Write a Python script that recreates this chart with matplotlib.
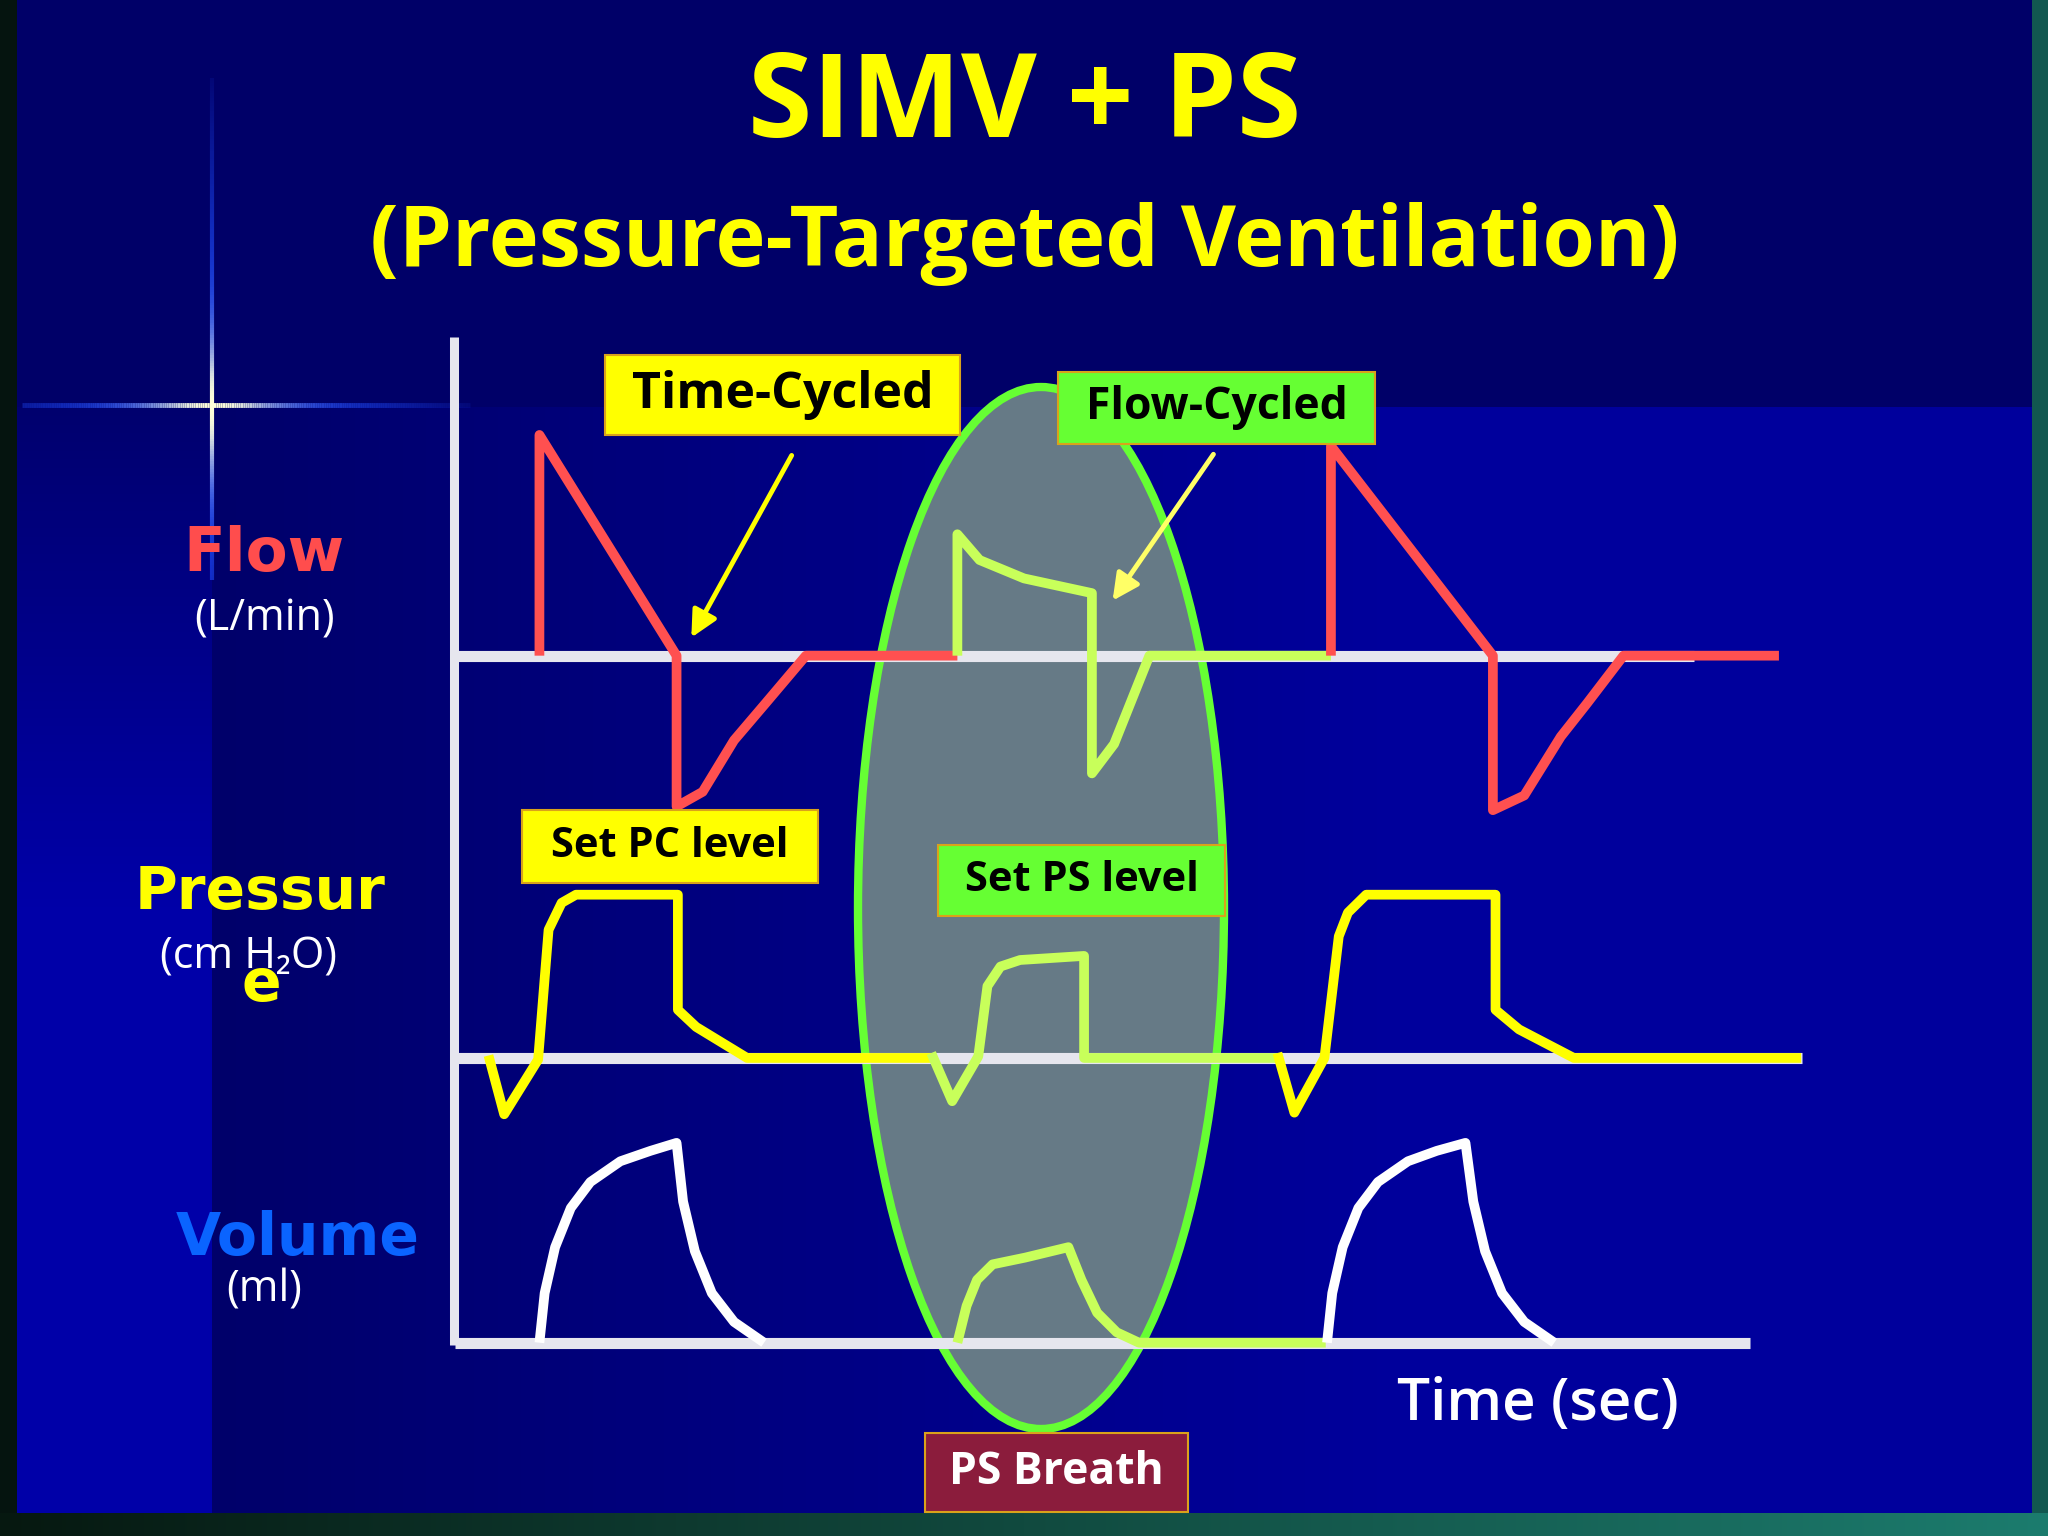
import numpy as np
import matplotlib
matplotlib.use("Agg")
import matplotlib.pyplot as plt
from matplotlib.patches import Ellipse, Rectangle
from matplotlib.collections import LineCollection

W, H = 2048, 1536
S = W / 1568.0          # layout was measured on a 1568 wide copy

# ---- waveform data (time in s, flow L/min, pressure cm H2O, volume ml) ----
flow_t1 = [0.65, 0.65, 1.70, 1.70, 1.90, 2.14, 2.38, 2.69, 3.85]
flow_v1 = [0, 60, 0, -41, -37, -23, -13, 0, 0]
flow_tps = [3.85, 3.85, 4.02, 4.36, 4.88, 4.88, 5.05, 5.32, 6.71]
flow_vps = [0, 33, 26, 21, 17, -32, -24, 0, 0]
flow_t2 = [6.71, 6.71, 7.95, 7.95, 8.19, 8.47, 8.67, 8.95, 10.14]
flow_v2 = [0, 57, 0, -42, -38, -22, -13, 0, 0]

pres_t1 = [0.26, 0.38, 0.64, 0.72, 0.82, 0.93, 1.71, 1.71, 1.85, 2.24, 3.65]
pres_v1 = [0.3, -6.9, -0.2, 15.7, 19.0, 20, 20, 5.9, 3.8, 0, 0]
pres_tps = [3.65, 3.81, 4.01, 4.08, 4.18, 4.33, 4.82, 4.82, 6.31]
pres_vps = [0.6, -5.3, 0.2, 8.8, 11.2, 12.0, 12.5, 0, 0]
pres_t2 = [6.30, 6.43, 6.66, 6.77, 6.84, 6.98, 7.97, 7.97, 8.15, 8.57, 10.31]
pres_v2 = [0.6, -6.7, 0, 14.9, 17.8, 20, 20, 5.9, 3.5, 0, 0]

vol_t1 = [0.65, 0.69, 0.77, 0.89, 1.04, 1.27, 1.50, 1.70, 1.75, 1.84, 1.97, 2.14, 2.37]
vol_v1 = [0, 124, 239, 337, 402, 454, 480, 500, 353, 229, 124, 52, 0]
vol_tps = [3.85, 3.92, 4.00, 4.12, 4.37, 4.70, 4.80, 4.92, 5.07, 5.24, 6.67]
vol_vps = [0, 92, 157, 196, 213, 239, 157, 75, 26, 0, 0]
vol_t2 = [6.68, 6.72, 6.80, 6.92, 7.07, 7.30, 7.52, 7.74, 7.80, 7.89, 8.02, 8.19, 8.42]
vol_v2 = [0, 124, 239, 337, 402, 454, 480, 500, 353, 229, 124, 52, 0]

baseline_end = {"flow": 9.49, "pres": 10.32, "vol": 9.92}

RED = "#ff5050"
YEL = "#ffff00"
PSC = "#c8ff5a"
WHT = "#ffffff"
BASE = "#e6e6ee"

fig = plt.figure(figsize=(W / 100, H / 100), dpi=100)

# ---- background ----
bg = fig.add_axes([0, 0, 1, 1])
bg.set_xlim(0, W)
bg.set_ylim(H, 0)
bg.axis("off")

img = np.zeros((H, W, 3), np.uint8)
img[:] = (5, 20, 15)
img[:1513, 17:2032] = (0, 0, 104)
xs = np.arange(W)
frac = np.clip((xs - 212) / (1400 - 212), 0, 1)
img[407:1513, 17:2032, 2] = (106 + 50 * frac[17:2032]).astype(np.uint8)
ys = np.arange(407, 1513)
img[407:1513, 17:212, 2] = (110 + 58 * np.clip((ys - 407) / 500, 0, 1))[:, None].astype(np.uint8)
fb = np.clip(xs / W, 0, 1)
img[1513:, :, 0] = (6 + 22 * fb).astype(np.uint8)
img[1513:, :, 1] = (24 + 100 * fb).astype(np.uint8)
img[1513:, :, 2] = (16 + 94 * fb).astype(np.uint8)
img[:1513, 2032:] = (18, 88, 80)
bg.imshow(img, extent=(0, W, H, 0), interpolation="nearest", aspect="auto", zorder=0)

# lens flare cross
def flare(p0, p1, center, spread, lw):
    n = 200
    pts = np.linspace(0, 1, n)
    x = p0[0] + (p1[0] - p0[0]) * pts
    y = p0[1] + (p1[1] - p0[1]) * pts
    d = np.hypot(x - center[0], y - center[1])
    w = np.exp(-(d / spread) ** 2)
    blue = np.array([0.12, 0.3, 1.0])
    white = np.array([1.0, 1.0, 0.85])
    cols = blue[None, :] * (1 - w[:, None]) + white[None, :] * w[:, None]
    alpha = np.clip(1.1 - d / d.max(), 0, 1)
    rgba = np.column_stack([cols, alpha])
    segs = np.stack([np.column_stack([x[:-1], y[:-1]]), np.column_stack([x[1:], y[1:]])], axis=1)
    bg.add_collection(LineCollection(segs, colors=rgba[:-1], linewidths=lw, zorder=1))

flare((22, 405), (470, 405), (212, 405), 70, 3.5)
flare((212, 78), (212, 580), (212, 405), 70, 3.0)

# PS breath ellipse
bg.add_patch(Ellipse((1041, 908), 366, 1042, fc="#667a86", ec="#66ff33", lw=6, zorder=2))

# vertical axis
bg.plot([454, 454], [337, 1345], color=BASE, lw=6.5, solid_capstyle="butt", zorder=3)

# ---- trace axes ----
def trace_axes(y_top, y_bot, base, k):
    # y_top, y_bot, base measured on the 1568 copy; k = units per pixel
    a = fig.add_axes([348 * S / W, 1 - y_bot * S / H, 1050 * S / W, (y_bot - y_top) * S / H])
    a.set_xlim(0, 10.5)
    a.set_ylim((base - y_bot) * k, (base - y_top) * k)
    a.axis("off")
    a.patch.set_alpha(0)
    return a

def draw(a, t, v, c):
    a.plot(t, v, color=c, lw=7, solid_joinstyle="round", solid_capstyle="butt", clip_on=False, zorder=3)

ax_f = trace_axes(258, 660, 502, 60 / 169)
ax_p = trace_axes(660, 870, 810, 20 / 125)
ax_v = trace_axes(870, 1040, 1028, 500 / 153)

for a, key in [(ax_f, "flow"), (ax_p, "pres"), (ax_v, "vol")]:
    a.plot([0, baseline_end[key]], [0, 0], color=BASE, lw=8, solid_capstyle="butt", clip_on=False, zorder=1)

draw(ax_f, flow_t1, flow_v1, RED)
draw(ax_f, flow_tps, flow_vps, PSC)
draw(ax_f, flow_t2, flow_v2, RED)
draw(ax_p, pres_t1, pres_v1, YEL)
draw(ax_p, pres_tps, pres_vps, PSC)
draw(ax_p, pres_t2, pres_v2, YEL)
draw(ax_v, vol_t1, vol_v1, WHT)
draw(ax_v, vol_tps, vol_vps, PSC)
draw(ax_v, vol_t2, vol_v2, WHT)

# ---- overlay: titles, labels, boxes, arrows ----
ov = fig.add_axes([0, 0, 1, 1])
ov.set_xlim(0, W)
ov.set_ylim(H, 0)
ov.axis("off")
ov.patch.set_alpha(0)

FT = ["Open Sans", "DejaVu Sans"]
ov.text(1025, 106, "SIMV + PS", color=YEL, fontsize=84, fontweight="bold", family=FT,
        ha="center", va="center")
ov.text(1025, 244, "(Pressure-Targeted Ventilation)", color=YEL, fontsize=61, fontweight="bold",
        family=FT, ha="center", va="center")

def box(x0, y0, x1, y1, fc, label, tc="black", size=34):
    ov.add_patch(Rectangle((x0, y0), x1 - x0, y1 - y0, fc=fc, ec="#d9a21b", lw=1.5, zorder=5))
    ov.text((x0 + x1) / 2, (y0 + y1) / 2, label, color=tc, fontsize=size, fontweight="bold",
            family=FT, ha="center", va="center", zorder=6)

box(605, 355, 960, 435, YEL, "Time-Cycled", size=36)
box(1058, 372, 1375, 444, "#66ff33", "Flow-Cycled", size=32)
box(522, 810, 818, 883, YEL, "Set PC level", size=30)
box(938, 845, 1225, 916, "#66ff33", "Set PS level", size=30)
box(925, 1433, 1188, 1512, "#8b1c3c", "PS Breath", tc=WHT, size=32)

ov.annotate("", xy=(690, 640), xytext=(793, 453),
            arrowprops=dict(arrowstyle="-|>", color=YEL, lw=3.5, mutation_scale=40), zorder=6)
ov.annotate("", xy=(1111, 603), xytext=(1215, 452),
            arrowprops=dict(arrowstyle="-|>", color="#ffff66", lw=3.5, mutation_scale=40), zorder=6)

LAB = ["DejaVu Sans"]
ov.text(264, 554, "Flow", color="#ff4d4d", fontsize=44, fontweight="bold", family=LAB,
        ha="center", va="center")
ov.text(265, 619, "(L/min)", color=WHT, fontsize=31, family=FT, ha="center", va="center")
ov.text(260, 892, "Pressur", color=YEL, fontsize=42, fontweight="bold", family=LAB,
        ha="center", va="center")
ov.text(248, 957, "(cm H\u2082O)", color=WHT, fontsize=31, family=FT, ha="center", va="center")
ov.text(261, 985, "e", color=YEL, fontsize=42, fontweight="bold", family=LAB,
        ha="center", va="center")
ov.text(298, 1238, "Volume", color="#0a64ff", fontsize=42, fontweight="bold", family=LAB,
        ha="center", va="center")
ov.text(264, 1290, "(ml)", color=WHT, fontsize=31, family=FT, ha="center", va="center")

ov.text(1538, 1405, "Time (sec)", color=WHT, fontsize=42, fontweight="semibold", family=FT,
        ha="center", va="center")

fig.savefig("out.png", dpi=100, facecolor=fig.get_facecolor())
